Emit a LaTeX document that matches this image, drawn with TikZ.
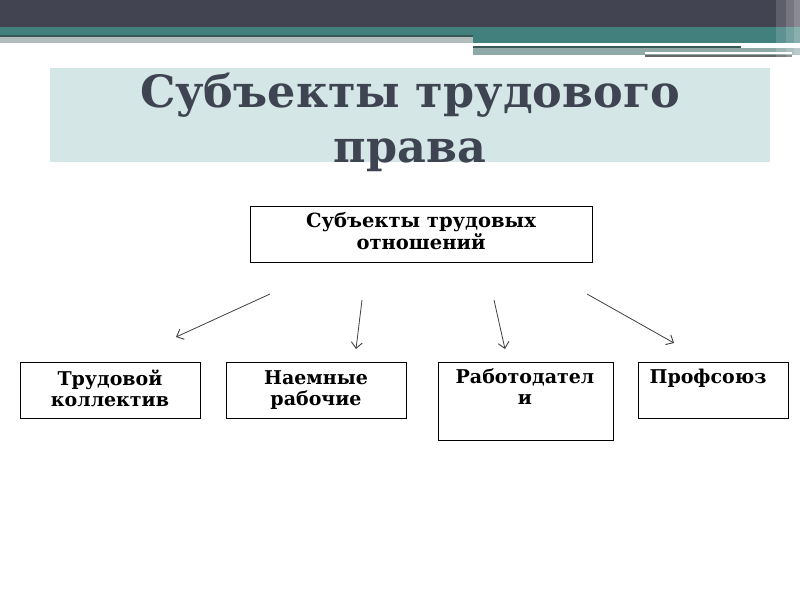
\documentclass[tikz,border=0pt]{standalone}
\usepackage{fontspec}
\setmainfont{DejaVu Serif}
\usetikzlibrary{arrows.meta}
\definecolor{barDark}{HTML}{424452}
\definecolor{barTeal}{HTML}{41807D}
\definecolor{barLine}{HTML}{3B5858}
\definecolor{barGray}{HTML}{B2BCBC}
\definecolor{barGray2}{HTML}{8FA9A9}
\definecolor{titleFill}{HTML}{D5E6E6}
\definecolor{titleText}{HTML}{3E4452}
\definecolor{arrowGray}{HTML}{404040}
\tikzset{
  box/.style={draw=black, line width=0.9pt, fill=white, inner sep=0pt},
  lbl/.style={font=\bfseries\fontsize{19}{21}\selectfont, align=center, inner sep=0pt, anchor=north},
  conn/.style={draw=arrowGray, line width=0.8pt, -{Straight Barb[length=6pt,width=11pt,line width=0.9pt]}}
}
\begin{document}
\begin{tikzpicture}[x=1pt,y=-1pt]
\useasboundingbox (0,0) rectangle (800,600);
\fill[white] (0,0) rectangle (800,600);
% top decoration bar
\fill[barDark] (0,0) rectangle (800,27);
\fill[barTeal] (0,27) rectangle (473,35);
\fill[barLine] (0,35) rectangle (473,37);
\fill[barGray] (0,37) rectangle (473,43);
\fill[barTeal] (473,27) rectangle (800,43);
\fill[white] (473,43) rectangle (741,46);
\fill[barLine] (473,46) rectangle (741,48);
\fill[barGray2] (473,48) rectangle (800,55);
\fill[white] (645,52) rectangle (792,54);
\fill[black!60] (645,55) rectangle (792,57);
\fill[white, opacity=0.15] (776,0) rectangle (800,57);
\fill[white, opacity=0.15] (786,0) rectangle (800,57);
\fill[white, opacity=0.15] (794,0) rectangle (800,57);
% title
\fill[titleFill] (50,68) rectangle (770,162);
\node[font=\bfseries\fontsize{44.5}{55}\selectfont, text=titleText, align=center, inner sep=0pt, anchor=north] (title) at (410,73) {Субъекты трудового\\права};
% central box
\node[box, minimum width=342pt, minimum height=56pt] (top) at (421,234) {};
\node[lbl, font=\bfseries\fontsize{19.5}{22}\selectfont] (toplbl) at (421,212) {Субъекты трудовых\\отношений};
% bottom boxes
\node[box, minimum width=180pt, minimum height=56pt] (b1) at (110,390) {};
\node[box, minimum width=180pt, minimum height=56pt] (b2) at (316,390) {};
\node[box, minimum width=175pt, minimum height=78pt] (b3) at (525.5,401) {};
\node[box, minimum width=150pt, minimum height=56pt] (b4) at (713,390) {};
\node[lbl] (l1) at (110,370) {Трудовой\\коллектив};
\node[lbl] (l2) at (316,370) {Наемные\\рабочие};
\node[lbl] (l3) at (525,369) {Работодател\\и};
\node[lbl] (l4) at (708,369) {Профсоюз};
% arrows
\coordinate (s1) at (270,294); \coordinate (e1) at (176,337);
\coordinate (s2) at (362,300); \coordinate (e2) at (356,349);
\coordinate (s3) at (494,300); \coordinate (e3) at (505,349);
\coordinate (s4) at (587,294); \coordinate (e4) at (674,343);
\draw[conn] (s1) -- (e1);
\draw[conn] (s2) -- (e2);
\draw[conn] (s3) -- (e3);
\draw[conn] (s4) -- (e4);
\end{tikzpicture}
\end{document}
